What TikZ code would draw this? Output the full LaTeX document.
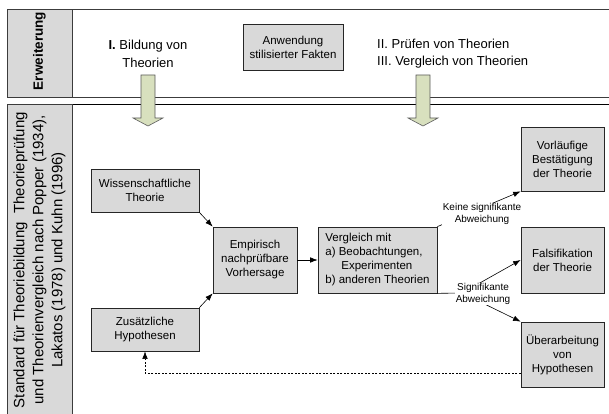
\documentclass[tikz,border=0pt]{standalone}
\usepackage{fontspec}
\setmainfont{Liberation Sans}
\usepackage{xcolor}
\usetikzlibrary{arrows.meta}
\usetikzlibrary{positioning}
\definecolor{box-gray}{RGB}{217, 217, 217}
\definecolor{arrow-green}{RGB}{216, 224, 190}
\definecolor{frame-gray}{RGB}{60, 60, 60}
\tikzset{
  grbox/.style={draw=black!85, fill=box-gray, line width=0.7pt, align=center, inner sep=1pt, font=\fontsize{11.5}{14}\selectfont},
  flow/.style={line width=0.6pt, -{Latex[length=7.5pt,width=5.5pt]}},
  devlabel/.style={fill=white, inner sep=1pt, align=center, font=\fontsize{10}{11.5}\selectfont},
}

\begin{document}
\begin{tikzpicture}[x=1pt, y=-1pt]
                \useasboundingbox (0,0) rectangle (609,414);
                \clip (0,0) rectangle (609,414);
                % bands
                \draw[frame-gray, line width=0.8pt] (7,9.5) -- (615,9.5);
                \draw[frame-gray, line width=0.8pt] (7,97) -- (615,97);
                \draw[black, line width=0.9pt] (7,104) -- (615,104);
                \filldraw[fill=box-gray, draw=frame-gray, line width=0.8pt] (7,9.5) rectangle (72,97);
                \filldraw[fill=box-gray, draw=frame-gray, line width=0.8pt] (7,104) rectangle (72,420);
                \node[rotate=90, font=\fontsize{13.5}{15}\selectfont\bfseries] (erw) at (39.5,51) {Erweiterung};
                \node[rotate=90, align=center, font=\fontsize{15}{19}\selectfont] (standard) at (39.5,260) {Standard für Theoriebildung\ \ Theorieprüfung\\und Theorienvergleich nach Popper (1934),\\Lakatos (1978) und Kuhn (1996)};
                % block arrows
                \foreach \ax in {148,423}
                    \filldraw[fill=arrow-green, draw=gray!70!black, line width=0.6pt] (\ax-7,75) -- (\ax+7,75) -- (\ax+7,118) -- (\ax+15,118) -- (\ax,126) -- (\ax-15,118) -- (\ax-7,118) -- cycle;
                \node[align=center, font=\fontsize{13}{17.5}\selectfont] (bildung) at (148,54) {\textbf{I.} Bildung von\\Theorien};
                \node[grbox, minimum width=100pt, minimum height=46pt] (fakten) at (293,47) {Anwendung\\stilisierter Fakten};
                \node[align=left, anchor=west, inner sep=0pt, font=\fontsize{13}{17}\selectfont] (pruefen) at (377,53.5) {II. Prüfen von Theorien\\III. Vergleich von Theorien};
                % flow
                \node[grbox, minimum width=108pt, minimum height=43pt] (wiss) at (145,190.5) {Wissenschaftliche\\Theorie};
                \node[grbox, minimum width=108pt, minimum height=43pt] (zus) at (145,329.5) {Zusätzliche\\Hypothesen};
                \node[grbox, minimum width=84pt, minimum height=66pt] (empir) at (255,260) {Empirisch\\nachprüfbare\\Vorhersage};
                \node[grbox, minimum width=119pt, minimum height=66pt, align=left] (vergl) at (377.5,260) {Vergleich mit\\a) Beobachtungen,\\\hspace*{16pt}Experimenten\\b) anderen Theorien};
                \node[grbox, minimum width=83pt, minimum height=64pt] (vorl) at (562.5,159) {Vorläufige\\Bestätigung\\der Theorie};
                \node[grbox, minimum width=83pt, minimum height=66pt] (falsi) at (562.5,260) {Falsifikation\\der Theorie};
                \node[grbox, minimum width=83pt, minimum height=65pt] (ueber) at (562.5,354.5) {Überarbeitung\\von\\Hypothesen};
                \draw[flow] (wiss.south east) -- (empir.north west);
                \draw[flow] (zus.north east) -- (empir.south west);
                \draw[flow] (empir) -- (vergl);
                \draw[flow] (vergl.north east) -- (vorl.south west);
                \node[devlabel] (keine) at (482,214) {Keine signifikante\\Abweichung};
                \coordinate (gabel) at (462,293);
                \draw[line width=0.6pt] (vergl.south east) -- (gabel);
                \draw[flow] (gabel) -- (falsi.west);
                \draw[flow] (gabel) -- (ueber.north west);
                \node[devlabel] (signif) at (483,294) {Signifikante\\Abweichung};
                \coordinate (rueck) at ([yshift=-18.5pt]ueber.west);
                \draw[flow, dash pattern=on 2pt off 1.5pt] (rueck) -| (zus.south);
            \end{tikzpicture}
\end{document}
